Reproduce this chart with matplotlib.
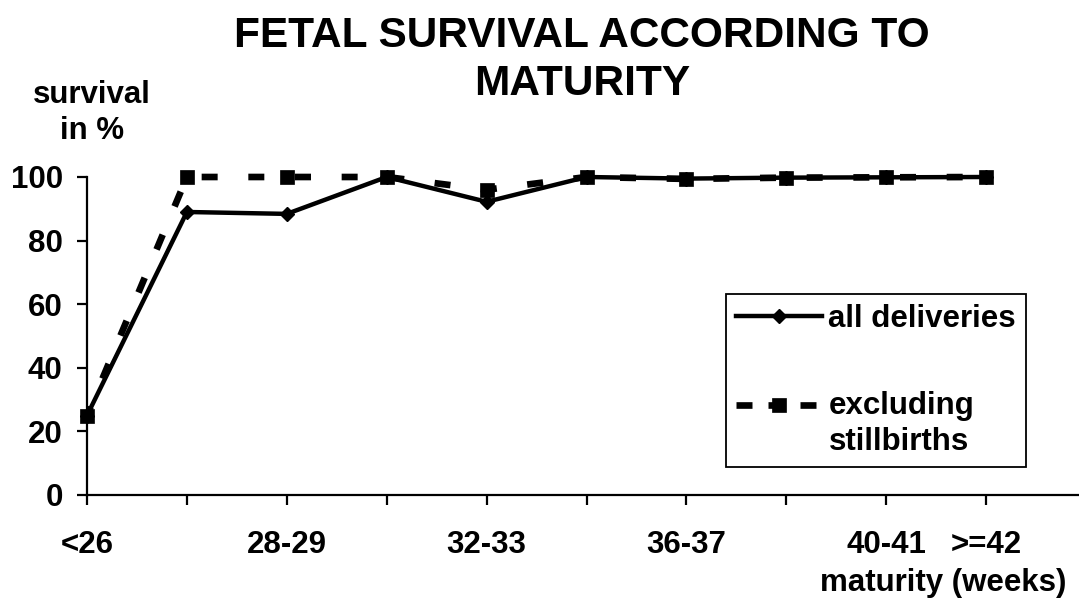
import numpy as np
import matplotlib
matplotlib.use("Agg")
import matplotlib.pyplot as plt
from matplotlib.legend_handler import HandlerLine2D

plt.rcParams['font.family'] = ['Liberation Sans', 'DejaVu Sans']
plt.rcParams['font.weight'] = 'bold'

# ---- data ----
categories = ["<26", "26-27", "28-29", "30-31", "32-33", "34-35",
              "36-37", "38-39", "40-41", ">=42"]
tick_labels = ["<26", "", "28-29", "", "32-33", "", "36-37", "", "40-41", ">=42"]
all_deliveries = [25, 89, 88.4, 100, 92.2, 100, 99.5, 99.8, 99.9, 100]
excluding_stillbirths = [25, 100, 100, 100, 96, 100, 99.4, 99.8, 99.9, 100]
y_ticks = [0, 20, 40, 60, 80, 100]

title = "FETAL SURVIVAL ACCORDING TO\nMATURITY"
ylabel = "survival\nin %"
xlabel = "maturity (weeks)"
series_labels = ["all deliveries", "excluding\nstillbirths"]

FS = 22.5
W, H = 1079, 601
fig = plt.figure(figsize=(W / 100, H / 100), dpi=100)
ax = fig.add_axes([87 / W, 1 - 495 / H, (W - 87) / W, (495 - 177) / H])

x = np.arange(len(categories))
l1, = ax.plot(x, all_deliveries, color='black', lw=3.2, marker='D', ms=7.2,
              mfc='black', mec='black', clip_on=False, zorder=3)
l2, = ax.plot(x, excluding_stillbirths, color='black', lw=4.8,
              linestyle=(1.0, (2.4, 4.6)), marker='s', ms=10.5,
              mfc='black', mec='black', mew=0.5, clip_on=False, zorder=4)

ax.set_xlim(0, (W - 87) / 99.9)
ax.set_ylim(0, 100)
ax.set_xticks(x)
ax.set_xticklabels(tick_labels)
ax.set_yticks(y_ticks)
for s in ['top', 'right']:
    ax.spines[s].set_visible(False)
for s in ['left', 'bottom']:
    ax.spines[s].set_linewidth(1.6)
ax.tick_params(axis='both', direction='out', length=7, width=1.6,
               labelsize=FS)
ax.tick_params(axis='x', pad=18.5)
ax.tick_params(axis='y', pad=10.5)
for lab in ax.get_xticklabels() + ax.get_yticklabels():
    lab.set_fontweight('bold')


class FirstLineHandler(HandlerLine2D):
    def __init__(self, shift=0.0, **kw):
        super().__init__(**kw)
        self.shift = shift

    def create_artists(self, legend, orig_handle, xdescent, ydescent,
                       width, height, fontsize, trans):
        arts = super().create_artists(legend, orig_handle, xdescent, ydescent,
                                      width, height, fontsize, trans)
        for a in arts:
            a.set_ydata(np.asarray(a.get_ydata(), dtype=float) + self.shift)
            if a.get_linestyle() not in ('-', 'None', 'none', ''):
                a.set_dashes((2.4, 2.4))
        return arts


leg = ax.legend([l1, l2], series_labels,
                handler_map={l1: FirstLineHandler(0.0, numpoints=1),
                             l2: FirstLineHandler(13.7, numpoints=1)},
                loc='upper left', bbox_to_anchor=(726 / W, 1 - 294 / H),
                bbox_transform=fig.transFigure, borderaxespad=0,
                frameon=True, fancybox=False, shadow=False,
                edgecolor='black', framealpha=1,
                prop={'size': FS, 'weight': 'bold'},
                handlelength=2.75, handletextpad=0.2, labelspacing=1.8,
                borderpad=0.33)
leg.get_frame().set_linewidth(1.3)
leg.get_texts()[1].set_linespacing(1.27)

fig.text(582 / W, 1 - 60 / H, title, ha='center', va='center',
         fontsize=30.5, fontweight='bold', linespacing=1.28)
fig.text(92 / W, 1 - 113 / H, ylabel, ha='center', va='center',
         fontsize=FS, fontweight='bold', linespacing=1.3,
         multialignment='center')
fig.text(1066 / W, 1 - 583 / H, xlabel, ha='right', va='center',
         fontsize=FS, fontweight='bold')

fig.savefig("out.png", dpi=100)
